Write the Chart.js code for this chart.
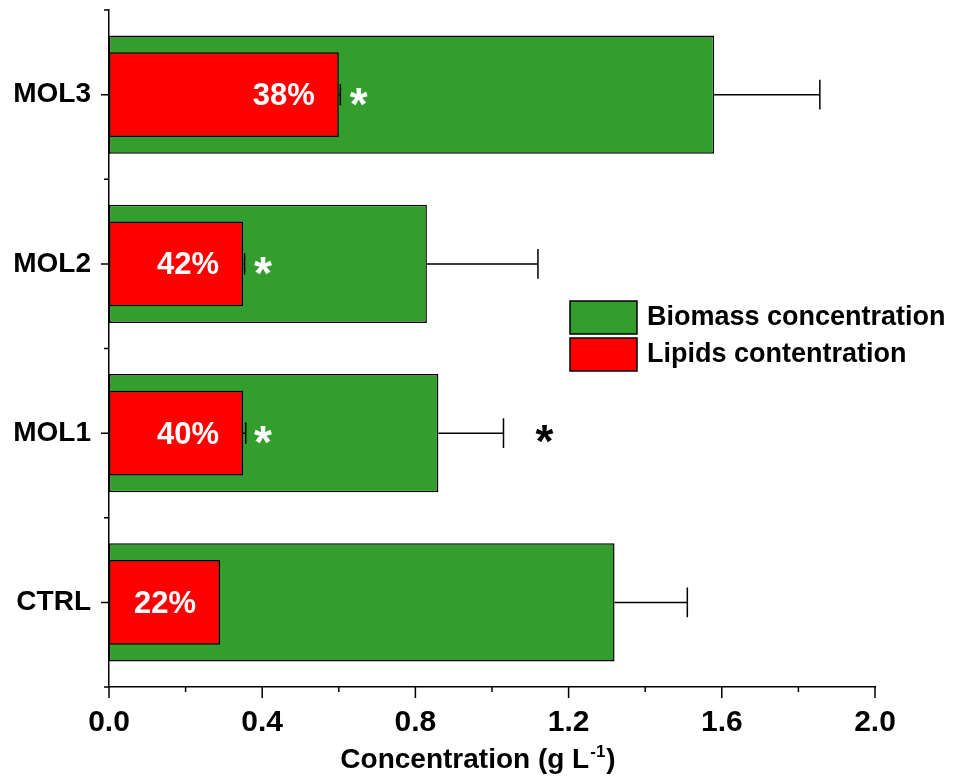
<!DOCTYPE html>
<html>
<head>
<meta charset="utf-8">
<script src="https://cdn.jsdelivr.net/npm/chart.js@4"></script>
<style>
  body { margin: 0; background: #fff; }
</style>
</head>
<body>
<canvas id="chart" width="958" height="784"></canvas>
<script>
const categories = ['MOL3', 'MOL2', 'MOL1', 'CTRL'];
const biomass = [1.58, 0.83, 0.86, 1.32];
const biomassErr = [0.276, 0.29, 0.17, 0.19];
const lipids = [0.60, 0.35, 0.35, 0.29];
const lipidsErr = [0.004, 0.004, 0.007, 0];
const lipidShare = ['38%', '42%', '40%', '22%'];
const lipidsStar = ['*', '*', '*', ''];   // white marks next to the red bars
const biomassStar = ['', '', '*', ''];    // black mark past the error bar
const xMin = 0, xMax = 2.0, xStep = 0.4;

const FONT = "'Liberation Sans', Arial, sans-serif";
const GREEN = '#339e2e';
const RED = '#ff0000';

// error bars (right side only)
const errorBars = {
    id: 'errorBars',
    afterDatasetsDraw(chart) {
        const ctx = chart.ctx;
        const xs = chart.scales.x;
        ctx.save();
        ctx.strokeStyle = '#000';
        ctx.lineWidth = 1.5;
        chart.data.datasets.forEach((ds, di) => {
            const meta = chart.getDatasetMeta(di);
            meta.data.forEach((bar, i) => {
                const err = ds.errors[i];
                if (!err) return;
                const x1 = xs.getPixelForValue(ds.data[i] + err);
                const cap = bar.height * 0.25;
                ctx.beginPath();
                ctx.moveTo(bar.x, bar.y);
                ctx.lineTo(x1, bar.y);
                ctx.moveTo(x1, bar.y - cap / 2);
                ctx.lineTo(x1, bar.y + cap / 2);
                ctx.stroke();
            });
        });
        ctx.restore();
    }
};

// tick marks, labels inside bars, stars, legend and axis title
const decorations = {
    id: 'decorations',
    afterDraw(chart) {
        const ctx = chart.ctx;
        const xs = chart.scales.x;
        const ys = chart.scales.y;
        const area = chart.chartArea;
        ctx.save();
        ctx.strokeStyle = '#000';
        ctx.lineWidth = 1.5;

        // y ticks: long at category centres, short at the boundaries
        ctx.beginPath();
        categories.forEach((c, i) => {
            const y = ys.getPixelForValue(i);
            ctx.moveTo(area.left - 8, y);
            ctx.lineTo(area.left, y);
        });
        for (let i = 0; i <= categories.length; i++) {
            const y = ys.getPixelForValue(i - 0.5);
            ctx.moveTo(area.left - 5, y);
            ctx.lineTo(area.left, y);
        }
        // x ticks: major every 0.4, minor in between
        for (let k = 0; k <= Math.round((xMax - xMin) / (xStep / 2)); k++) {
            const x = xs.getPixelForValue(xMin + k * xStep / 2);
            ctx.moveTo(x, area.bottom);
            ctx.lineTo(x, area.bottom + (k % 2 === 0 ? 11 : 5));
        }
        ctx.stroke();

        const redMeta = chart.getDatasetMeta(1);
        const greenMeta = chart.getDatasetMeta(0);

        // percent labels inside red bars
        ctx.fillStyle = '#fff';
        ctx.font = `bold 31px ${FONT}`;
        ctx.textAlign = 'right';
        ctx.textBaseline = 'middle';
        redMeta.data.forEach((bar, i) => {
            ctx.fillText(lipidShare[i], bar.x - 24, bar.y + 2);
        });

        // stars, centred on their ink box
        ctx.font = `bold 46px ${FONT}`;
        ctx.textAlign = 'center';
        ctx.textBaseline = 'alphabetic';
        const drawStar = (s, x, y, color) => {
            if (!s) return;
            const m = ctx.measureText(s);
            ctx.fillStyle = color;
            ctx.fillText(s, x, y + (m.actualBoundingBoxAscent - m.actualBoundingBoxDescent) / 2);
        };
        redMeta.data.forEach((bar, i) => {
            drawStar(lipidsStar[i], bar.x + 20, bar.y + 2, '#fff');
        });
        greenMeta.data.forEach((bar, i) => {
            const xe = xs.getPixelForValue(biomass[i] + biomassErr[i]);
            drawStar(biomassStar[i], xe + 41, bar.y + 1, '#000');
        });

        // legend
        ctx.font = `bold 27px ${FONT}`;
        ctx.textAlign = 'left';
        ctx.textBaseline = 'middle';
        chart.data.datasets.forEach((ds, i) => {
            const bx = 570, by = 301 + i * 37;
            ctx.fillStyle = ds.backgroundColor;
            ctx.fillRect(bx, by, 67, 33);
            ctx.strokeRect(bx, by, 67, 33);
            ctx.fillStyle = '#000';
            ctx.fillText(ds.label, bx + 77, by + 17);
        });

        // axis title with superscript
        const main = 'Concentration (g L', sup = '-1', tail = ')';
        ctx.textBaseline = 'alphabetic';
        ctx.font = `bold 28px ${FONT}`;
        const wMain = ctx.measureText(main).width;
        const wTail = ctx.measureText(tail).width;
        ctx.font = `bold 17px ${FONT}`;
        const wSup = ctx.measureText(sup).width;
        const cx = (area.left + area.right) / 2 - 14;
        let x = cx - (wMain + wSup + wTail + 2) / 2;
        const base = 768;
        ctx.fillStyle = '#000';
        ctx.font = `bold 28px ${FONT}`;
        ctx.fillText(main, x, base);
        x += wMain + 1;
        ctx.font = `bold 17px ${FONT}`;
        ctx.fillText(sup, x, base - 11);
        x += wSup + 1;
        ctx.font = `bold 28px ${FONT}`;
        ctx.fillText(tail, x, base);

        ctx.restore();
    }
};

new Chart(document.getElementById('chart').getContext('2d'), {
    type: 'bar',
    data: {
        labels: categories,
        datasets: [
            {
                label: 'Biomass concentration',
                data: biomass,
                errors: biomassErr,
                backgroundColor: GREEN,
                borderColor: '#000',
                borderWidth: 1.5,
                borderSkipped: false,
                barPercentage: 0.7,
                categoryPercentage: 1,
                grouped: false,
                order: 2
            },
            {
                label: 'Lipids contentration',
                data: lipids,
                errors: lipidsErr,
                backgroundColor: RED,
                borderColor: '#000',
                borderWidth: 1.5,
                borderSkipped: false,
                barPercentage: 0.5,
                categoryPercentage: 1,
                grouped: false,
                order: 1
            }
        ]
    },
    options: {
        responsive: false,
        animation: false,
        indexAxis: 'y',
        layout: { padding: { top: 10, right: 83, left: 0, bottom: 0 } },
        plugins: {
            legend: { display: false },
            tooltip: { enabled: false }
        },
        scales: {
            y: {
                type: 'category',
                grid: { display: false, drawTicks: false },
                border: { display: true, color: '#000', width: 1.5 },
                ticks: {
                    color: '#000',
                    font: { family: FONT, size: 28, weight: 'bold' },
                    padding: 18
                },
                afterFit: (s) => {
                    s.width = 109;
                    s.paddingTop = 0;
                    s.paddingBottom = 0;
                }
            },
            x: {
                type: 'linear',
                min: xMin,
                max: xMax,
                grid: { display: false, drawTicks: false },
                border: { display: true, color: '#000', width: 1.5 },
                ticks: {
                    stepSize: xStep,
                    maxRotation: 0,
                    color: '#000',
                    font: { family: FONT, size: 30, weight: 'bold' },
                    padding: 18,
                    callback: (v) => Number(v).toFixed(1)
                },
                afterFit: (s) => {
                    s.height = 97;
                    s.paddingLeft = 0;
                    s.paddingRight = 0;
                }
            }
        }
    },
    plugins: [errorBars, decorations]
});
</script>
</body>
</html>
